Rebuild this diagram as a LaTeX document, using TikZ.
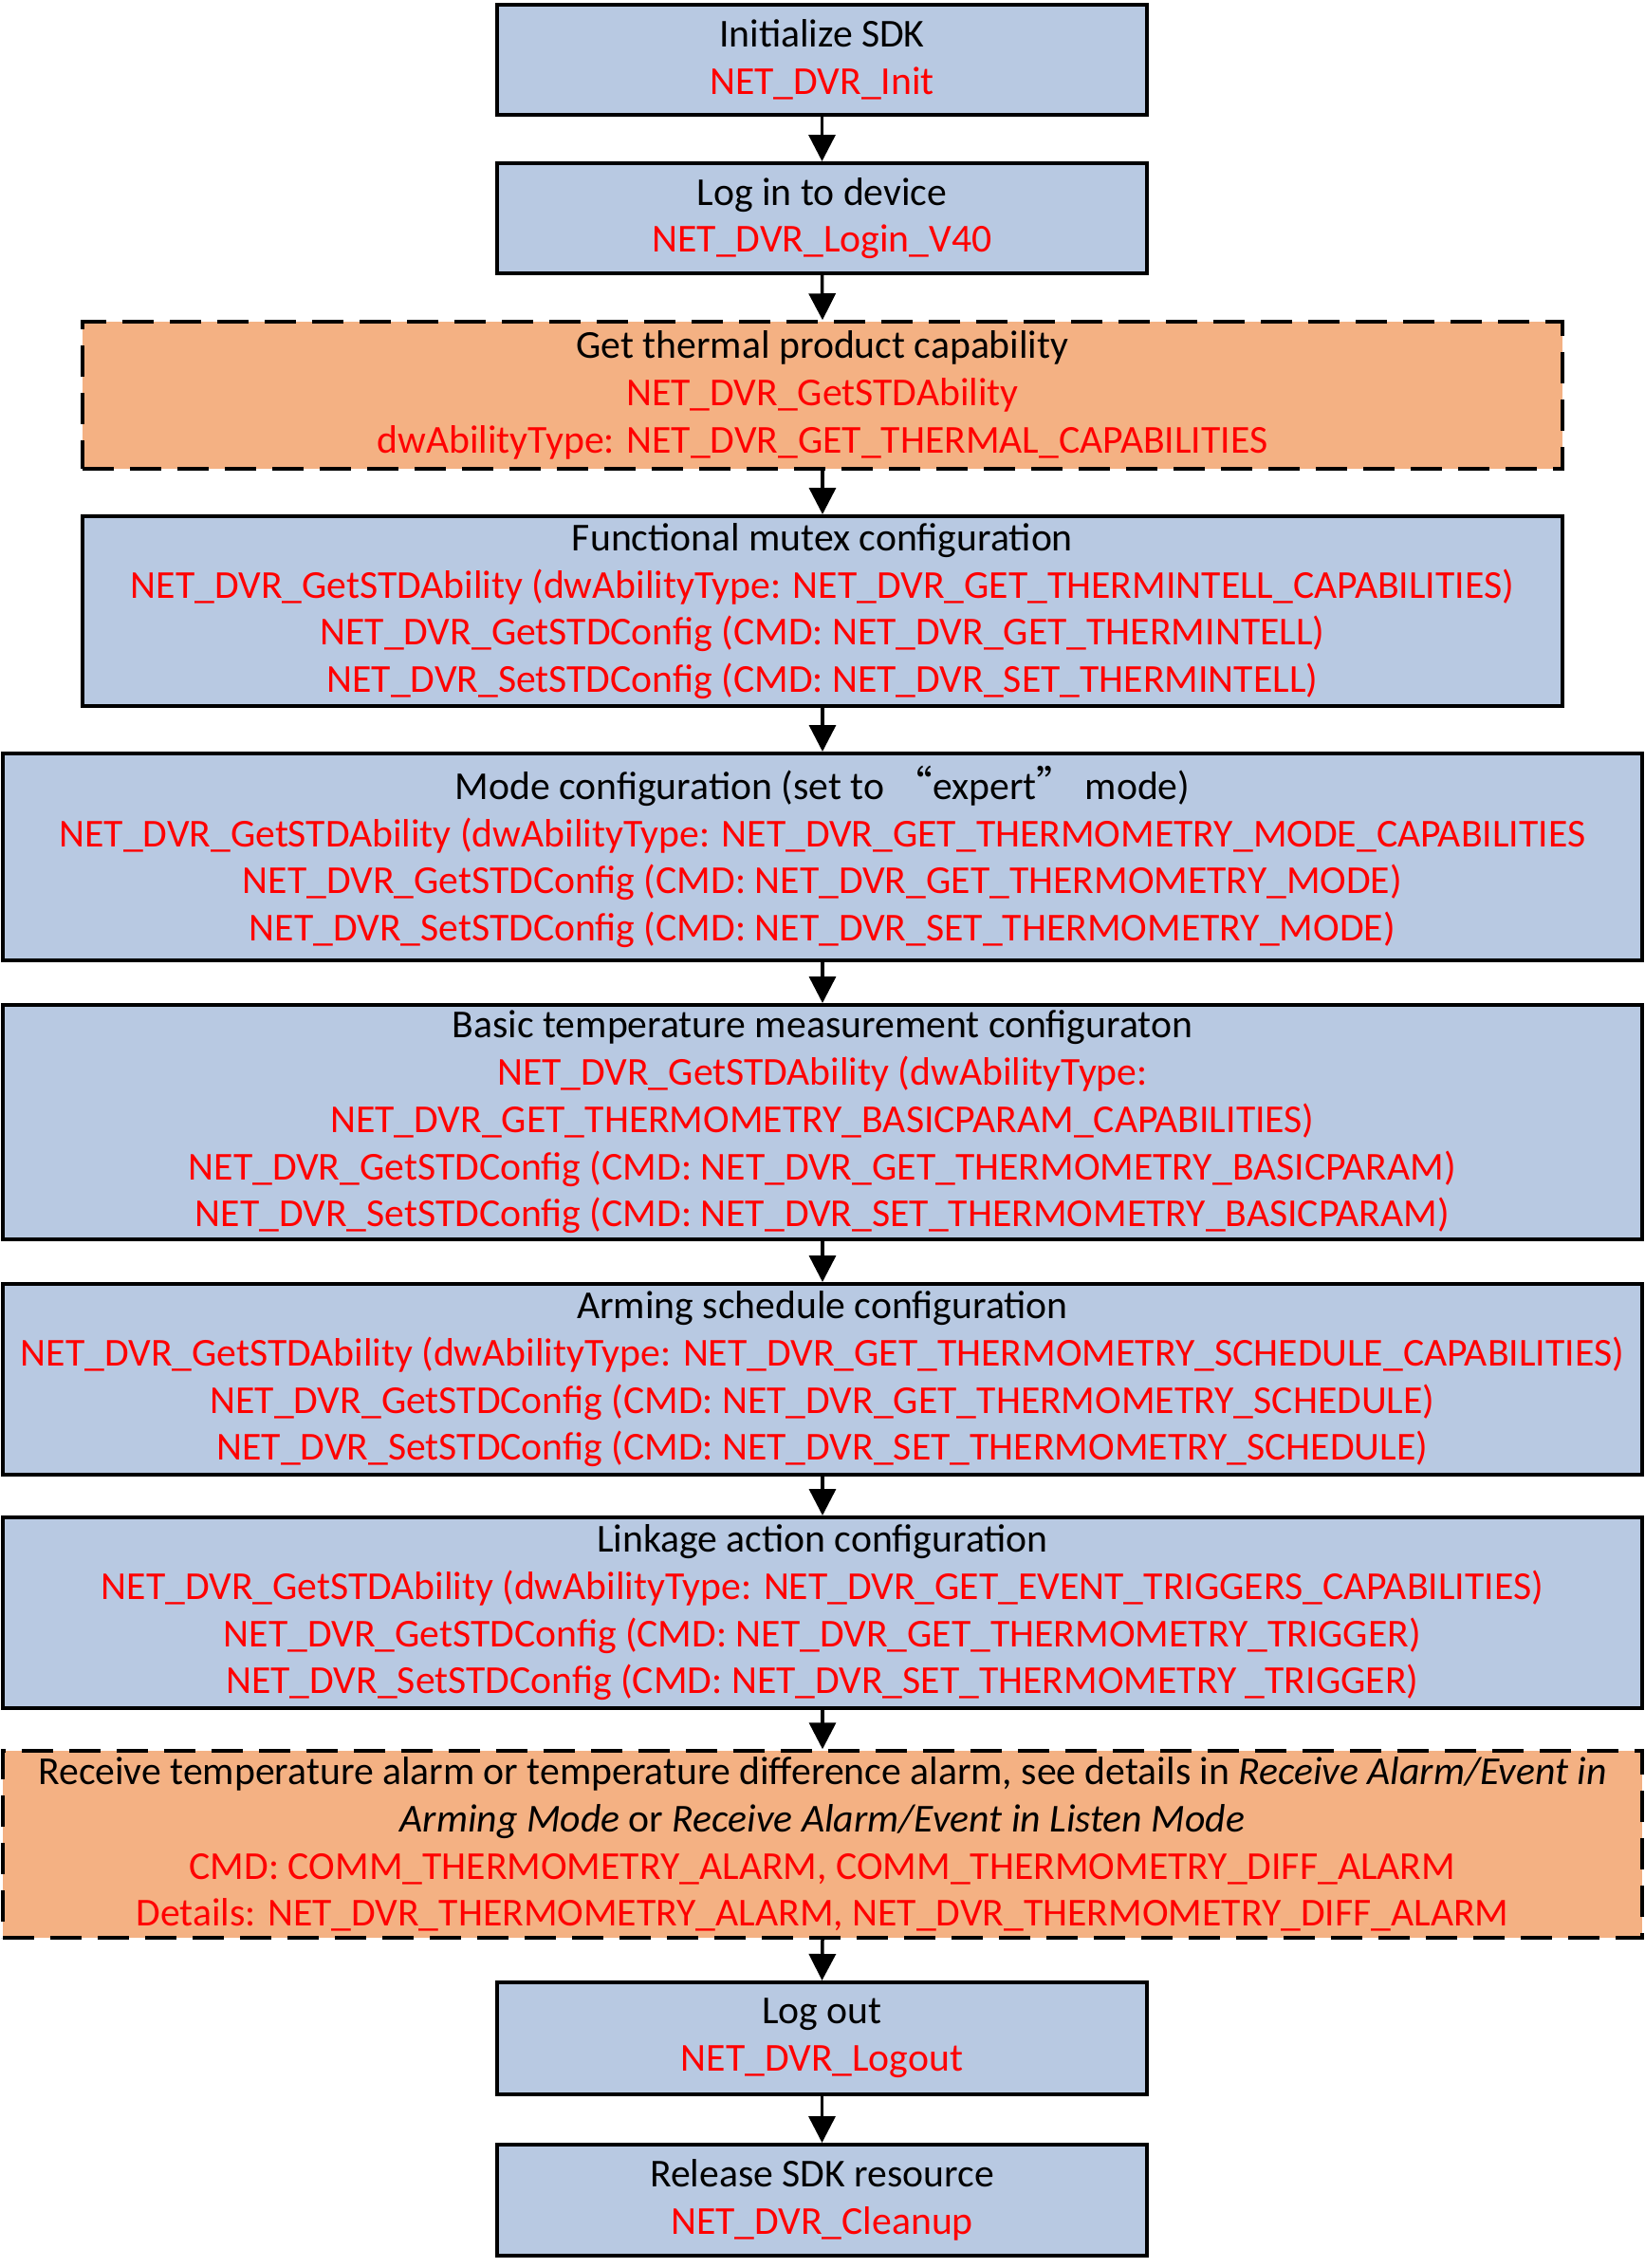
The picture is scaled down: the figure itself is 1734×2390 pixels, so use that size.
\documentclass[tikz,border=0pt]{standalone}
\usepackage{fontspec}
\setmainfont{Carlito}
\newfontfamily\cjk{Noto Sans CJK SC}
\usetikzlibrary{arrows.meta}
\definecolor{boxblue}{HTML}{B8C9E2}
\definecolor{boxorange}{HTML}{F4B183}
\definecolor{fnred}{HTML}{FF0000}
\newcommand\rd[1]{\textcolor{fnred}{#1}}
\begin{document}
\begin{tikzpicture}[x=1pt,y=-1pt,
  box/.style={draw=black, line width=4pt, fill=boxblue, align=center, inner sep=0pt,
              font=\fontsize{41.7}{49.7}\selectfont},
  dbox/.style={box, fill=boxorange, line width=3.5pt, dash pattern=on 33pt off 17pt},
  arr/.style={-{Triangle[length=28pt,width=28pt]}, line width=3.5pt}]
\useasboundingbox (0,0) rectangle (1734,2390);

\node[box, minimum width=685pt, minimum height=116pt] (b1) at (866.5,63)
  {Initialize SDK\\\rd{NET\_DVR\_Init}};
\node[box, minimum width=685pt, minimum height=116pt] (b2) at (866.5,230)
  {Log in to device\\\rd{NET\_DVR\_Login\_V40}};
\node[dbox, minimum width=1560pt, minimum height=155pt] (b3) at (867,416.5)
  {Get thermal product capability\\\rd{NET\_DVR\_GetSTDAbility}\\\rd{dwAbilityType: NET\_DVR\_GET\_THERMAL\_CAPABILITIES}};
\node[box, minimum width=1560pt, minimum height=200pt] (b4) at (867,644)
  {Functional mutex configuration\\
   \rd{NET\_DVR\_GetSTDAbility (dwAbilityType: NET\_DVR\_GET\_THERMINTELL\_CAPABILITIES)}\\
   \rd{NET\_DVR\_GetSTDConfig (CMD: NET\_DVR\_GET\_THERMINTELL)}\\
   \rd{NET\_DVR\_SetSTDConfig (CMD: NET\_DVR\_SET\_THERMINTELL)}};
\node[box, minimum width=1728pt, minimum height=218pt] (b5) at (867,903)
  {Mode configuration (set to {\cjk “}expert{\cjk ”} mode)\\
   \rd{NET\_DVR\_GetSTDAbility (dwAbilityType: NET\_DVR\_GET\_THERMOMETRY\_MODE\_CAPABILITIES}\\
   \rd{NET\_DVR\_GetSTDConfig (CMD: NET\_DVR\_GET\_THERMOMETRY\_MODE)}\\
   \rd{NET\_DVR\_SetSTDConfig (CMD: NET\_DVR\_SET\_THERMOMETRY\_MODE)}};
\node[box, minimum width=1728pt, minimum height=247pt] (b6) at (867,1182.5)
  {Basic temperature measurement configuraton\\
   \rd{NET\_DVR\_GetSTDAbility (dwAbilityType:}\\
   \rd{NET\_DVR\_GET\_THERMOMETRY\_BASICPARAM\_CAPABILITIES)}\\
   \rd{NET\_DVR\_GetSTDConfig (CMD: NET\_DVR\_GET\_THERMOMETRY\_BASICPARAM)}\\
   \rd{NET\_DVR\_SetSTDConfig (CMD: NET\_DVR\_SET\_THERMOMETRY\_BASICPARAM)}};
\node[box, minimum width=1728pt, minimum height=201pt] (b7) at (867,1453.5)
  {Arming schedule configuration\\
   \rd{NET\_DVR\_GetSTDAbility (dwAbilityType: NET\_DVR\_GET\_THERMOMETRY\_SCHEDULE\_CAPABILITIES)}\\
   \rd{NET\_DVR\_GetSTDConfig (CMD: NET\_DVR\_GET\_THERMOMETRY\_SCHEDULE)}\\
   \rd{NET\_DVR\_SetSTDConfig (CMD: NET\_DVR\_SET\_THERMOMETRY\_SCHEDULE)}};
\node[box, minimum width=1728pt, minimum height=201pt] (b8) at (867,1699.5)
  {Linkage action configuration\\
   \rd{NET\_DVR\_GetSTDAbility (dwAbilityType: NET\_DVR\_GET\_EVENT\_TRIGGERS\_CAPABILITIES)}\\
   \rd{NET\_DVR\_GetSTDConfig (CMD: NET\_DVR\_GET\_THERMOMETRY\_TRIGGER)}\\
   \rd{NET\_DVR\_SetSTDConfig (CMD: NET\_DVR\_SET\_THERMOMETRY \_TRIGGER)}};
\node[dbox, minimum width=1728pt, minimum height=197pt] (b9) at (867,1943.5)
  {Receive temperature alarm or temperature difference alarm, see details in \textit{Receive Alarm/Event in}\\
   \textit{Arming Mode} or \textit{Receive Alarm/Event in Listen Mode}\\
   \rd{CMD: COMM\_THERMOMETRY\_ALARM, COMM\_THERMOMETRY\_DIFF\_ALARM}\\
   \rd{Details: NET\_DVR\_THERMOMETRY\_ALARM, NET\_DVR\_THERMOMETRY\_DIFF\_ALARM}};
\node[box, minimum width=685pt, minimum height=118pt] (b10) at (866.5,2148)
  {Log out\\\rd{NET\_DVR\_Logout}};
\node[box, minimum width=685pt, minimum height=117pt] (b11) at (866.5,2318.5)
  {Release SDK resource\\\rd{NET\_DVR\_Cleanup}};

\foreach \a/\b in {b1/b2,b2/b3,b3/b4,b4/b5,b5/b6,b6/b7,b7/b8,b8/b9,b9/b10,b10/b11}
  \draw[arr] (\a.south) -- (\b.north);
\end{tikzpicture}
\end{document}
